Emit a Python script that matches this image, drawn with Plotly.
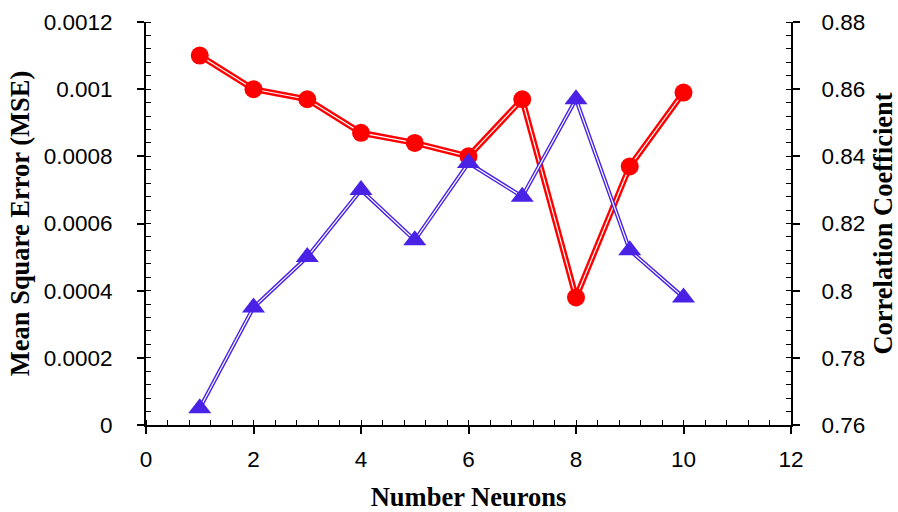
import plotly.graph_objects as go

# Network size vs. training error and correlation
neurons = [1, 2, 3, 4, 5, 6, 7, 8, 9, 10]
mse = [0.0011, 0.0010, 0.00097, 0.00087, 0.00084, 0.00080, 0.00097, 0.00038, 0.00077, 0.00099]
corr = [0.765, 0.795, 0.810, 0.830, 0.815, 0.838, 0.828, 0.857, 0.812, 0.798]

x_ticks = [0, 2, 4, 6, 8, 10, 12]
mse_ticks = [0, 0.0002, 0.0004, 0.0006, 0.0008, 0.001, 0.0012]
mse_labels = ["0", "0.0002", "0.0004", "0.0006", "0.0008", "0.001", "0.0012"]
corr_ticks = [0.76, 0.78, 0.80, 0.82, 0.84, 0.86, 0.88]
corr_labels = ["0.76", "0.78", "0.8", "0.82", "0.84", "0.86", "0.88"]

RED = "#FF0000"
BLUE = "#4A22E6"

fig = go.Figure()

# correlation line (double stroke: coloured band with a thin white core)
fig.add_trace(go.Scatter(x=neurons, y=corr, yaxis="y2", mode="lines",
                         line=dict(color=BLUE, width=4), hoverinfo="skip"))
fig.add_trace(go.Scatter(x=neurons, y=corr, yaxis="y2", mode="lines",
                         line=dict(color="white", width=1.2), hoverinfo="skip"))
# MSE line
fig.add_trace(go.Scatter(x=neurons, y=mse, mode="lines",
                         line=dict(color=RED, width=6), hoverinfo="skip"))
fig.add_trace(go.Scatter(x=neurons, y=mse, mode="lines",
                         line=dict(color="white", width=1.2), hoverinfo="skip"))
# markers on top
fig.add_trace(go.Scatter(x=neurons, y=corr, yaxis="y2", mode="markers",
                         marker=dict(symbol="triangle-up", size=20, color=BLUE,
                                     line=dict(width=0)), name="R"))
fig.add_trace(go.Scatter(x=neurons, y=mse, mode="markers",
                         marker=dict(symbol="circle", size=18, color=RED,
                                     line=dict(width=0)), name="MSE"))

tick_font = dict(family="Liberation Sans, Arial, sans-serif", size=22.5, color="#000")
title_font = dict(family="Liberation Serif, Times New Roman, serif", size=26.5, color="#000")

common = dict(
    showgrid=False, zeroline=False, automargin=False,
    showline=True, linecolor="#000", linewidth=2,
    ticks="outside", ticklen=7, tickwidth=1.5, tickcolor="#000",
    tickfont=tick_font,
)

fig.update_layout(
    width=898, height=512,
    margin=dict(l=146, r=107, t=22, b=87),
    paper_bgcolor="white", plot_bgcolor="white",
    showlegend=False,
    xaxis=dict(
        range=[0, 12], tickvals=x_ticks, ticktext=[str(v) for v in x_ticks],
        minor=dict(dtick=0.4, ticks="inside", ticklen=5, tickwidth=1.2, tickcolor="#000", showgrid=False),
        title=dict(text="<b>Number Neurons</b>", font=title_font, standoff=16),
        ticklabelstandoff=6,
        **common,
    ),
    yaxis=dict(
        range=[0, 0.0012], tickvals=mse_ticks, ticktext=mse_labels,
        minor=dict(dtick=0.00004, ticks="inside", ticklen=5, tickwidth=1.2, tickcolor="#000", showgrid=False),
        title=dict(text="<b>Mean Square Error (MSE)</b>", font=title_font, standoff=6),
        ticklabelstandoff=20,
        **common,
    ),
    yaxis2=dict(
        range=[0.76, 0.88], tickvals=corr_ticks, ticktext=corr_labels,
        overlaying="y", side="right",
        minor=dict(dtick=0.004, ticks="inside", ticklen=5, tickwidth=1.2, tickcolor="#000", showgrid=False),
        title=dict(text="<b>Correlation Coefficient</b>", font=title_font, standoff=14),
        ticklabelstandoff=17,
        **common,
    ),
)

fig.write_html("out.html")
